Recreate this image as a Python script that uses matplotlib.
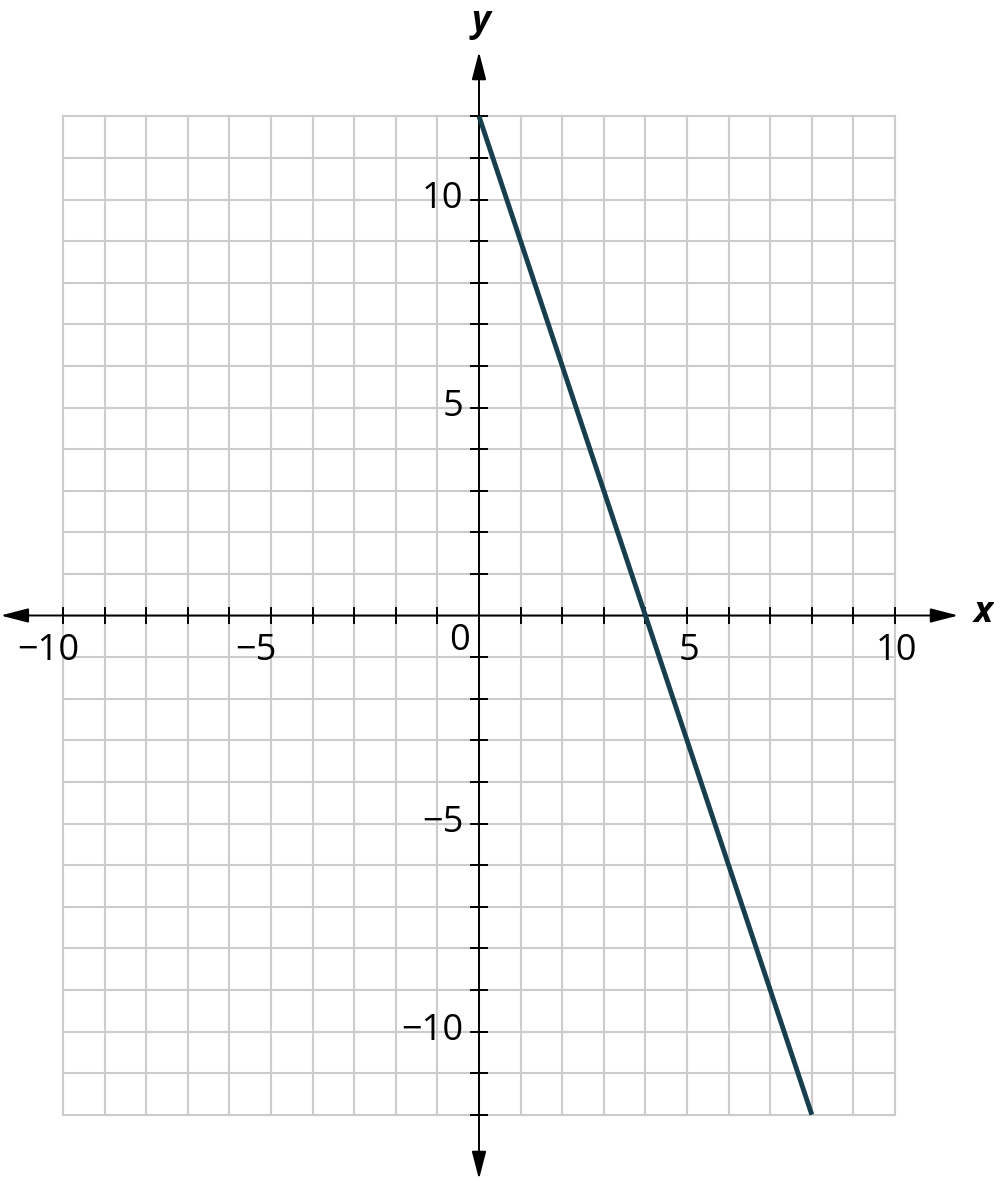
import matplotlib
matplotlib.use("Agg")
import matplotlib.pyplot as plt
import numpy as np

plt.rcParams['font.family'] = ['Open Sans', 'DejaVu Sans']

# Data
line_x = [0, 8]
line_y = [12, -12]
x_grid = list(range(-10, 11))
y_grid = list(range(-12, 13))
x_labels = [-10, -5, 5, 10]
y_labels = [10, 5, -5, -10]

W, H = 995, 1179
fig = plt.figure(figsize=(W / 100, H / 100), dpi=100)
ax = fig.add_axes([0, 0, 1, 1])
sx = 41.6
ox, oy = 479, 615.5
ax.set_xlim(-ox / sx, (W - ox) / sx)
ax.set_ylim((oy - H) / sx, oy / sx)
ax.axis('off')

grid_c = '#cccccc'
for gx in x_grid:
    ax.plot([gx, gx], [y_grid[0], y_grid[-1]], color=grid_c, lw=1.5, zorder=1)
for gy in y_grid:
    ax.plot([x_grid[0], x_grid[-1]], [gy, gy], color=grid_c, lw=1.5, zorder=1)

# axes with arrows
arr = dict(arrowstyle='<|-|>,head_length=0.85,head_width=0.22', color='black',
           lw=1.4, shrinkA=0, shrinkB=0, mutation_scale=20)
ax.annotate('', xy=(-11.5, 0), xytext=(11.52, 0), arrowprops=arr, zorder=3)
ax.annotate('', xy=(0, 13.55), xytext=(0, -13.55), arrowprops=arr, zorder=3)

tk = 0.19
for gx in x_grid:
    if gx != 0:
        ax.plot([gx, gx], [-tk, tk], color='black', lw=1.4, zorder=3)
for gy in y_grid:
    if gy != 0:
        ax.plot([-tk, tk], [gy, gy], color='black', lw=1.4, zorder=3)

fs = 26
for v in x_labels:
    off = -0.36 if v < 0 else 0.04
    ax.text(v + off, -0.85, f"{v}".replace('-', '\u2212'), ha='center', va='center',
            fontsize=fs, zorder=4)
for v in y_labels:
    ax.text(-0.38, v, f"{v}".replace('-', '\u2212'), ha='right', va='center',
            fontsize=fs, zorder=4)
ax.text(-0.48, -0.62, "0", ha='center', va='center', fontsize=fs, zorder=4)

ax.text((983 - ox) / sx, (oy - 613) / sx, 'x', ha='center', va='center', fontsize=fs,
        fontweight='bold', style='italic', zorder=4)
ax.text((481 - ox) / sx, (oy - 22) / sx, 'y', ha='center', va='center', fontsize=fs,
        fontweight='bold', style='italic', zorder=4)

ax.plot(line_x, line_y, color='#173e4d', lw=3.5, solid_capstyle='butt', zorder=5)

fig.savefig('out.png', dpi=100)
